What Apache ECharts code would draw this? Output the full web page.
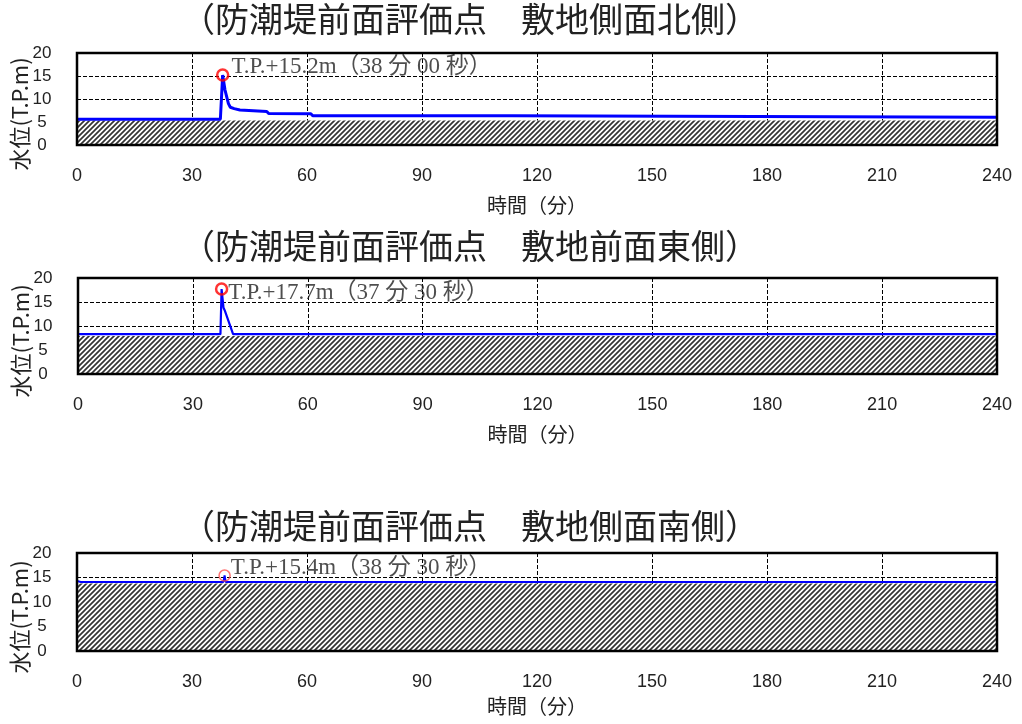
<!DOCTYPE html>
<html>
<head>
<meta charset="utf-8">
<script src="https://cdn.jsdelivr.net/npm/echarts@6/dist/echarts.min.js"></script>
<style>html,body{margin:0;padding:0;background:#fff;}#c{width:1022px;height:724px;}</style>
</head>
<body>
<div id="c"></div>
<script>
// ---- data ----
const titles = ['（防潮堤前面評価点　敷地側面北側）', '（防潮堤前面評価点　敷地前面東側）', '（防潮堤前面評価点　敷地側面南側）'];
const xAxisName = '時間（分）';
const yAxisName = '水位(T.P.m)';
const xTicks = [0, 30, 60, 90, 120, 150, 180, 210, 240];
const yTicks = [0, 5, 10, 15, 20];

const northTime  = [0, 37.4, 38.0, 38.6, 39.5, 40.0, 41.0, 42.5, 43.0, 49.5, 50.0, 61.0, 61.5, 113.5, 114.0, 240];
const northLevel = [5.6, 5.6, 15.2, 12.0, 9.0, 8.2, 7.9, 7.6, 7.35, 7.3, 6.85, 6.8, 6.35, 6.35, 6.05, 6.05];
const eastTime   = [0, 37.2, 37.5, 38.0, 38.3, 40.5, 240];
const eastLevel  = [8.3, 8.3, 17.7, 13.8, 13.3, 8.3, 8.3];
const southTime  = [0, 1.0, 38.2, 38.5, 38.8, 240];
const southLevel = [14.3, 14.1, 14.1, 15.4, 14.1, 14.1];

const groundLevel = [5.3, 7.9, 13.8];
const peakTime  = [38.0, 37.5, 38.5];
const peakLevel = [15.2, 17.7, 15.4];
const peakLabel = ['T.P.+15.2m（38 分 00 秒）', 'T.P.+17.7m（37 分 30 秒）', 'T.P.+15.4m（38 分 30 秒）'];

// ---- layout / style ----
const times = [northTime, eastTime, southTime];
const levels = [northLevel, eastLevel, southLevel];
const grids = [
  {left: 77, right: 25, top: 53, height: 92},
  {left: 78, right: 25, top: 278, height: 96},
  {left: 77, right: 25, top: 553, height: 98}
];
const titleTops = [2, 229, 509];
const nameGaps = [50, 50, 45];
const lineWidths = [3, 2.2, 2];
const labelOffsets = [[0, -8], [0, 4], [0, -8]];
const labelDist = [2, 0, 0];
const markerBorder = [2.5, 2.5, 1.5];
const markerColor = ['#ff0000', '#ff0000', '#ff5050'];

function hatchCanvas() {
  const s = 5;
  const c = document.createElement('canvas');
  c.width = s; c.height = s;
  const g = c.getContext('2d');
  g.fillStyle = '#ffffff';
  g.fillRect(0, 0, s, s);
  g.strokeStyle = '#333333';
  g.lineWidth = 1.7;
  g.beginPath();
  g.moveTo(-1, s + 1); g.lineTo(s + 1, -1);
  g.moveTo(-1, 1); g.lineTo(1, -1);
  g.moveTo(s - 1, s + 1); g.lineTo(s + 1, s - 1);
  g.stroke();
  return c;
}
const hatch = hatchCanvas();

const zip = (a, b) => a.map((v, i) => [v, b[i]]);
const labelFont = '"Liberation Sans", "Noto Sans CJK JP", sans-serif';
const serifFont = '"Liberation Serif", "Noto Sans CJK JP", serif';
const cjkFont = '"Noto Sans CJK JP", sans-serif';

const option = {
  animation: false,
  backgroundColor: '#ffffff',
  title: titles.map((t, i) => ({
    text: t, left: 470, top: titleTops[i], textAlign: 'center', padding: 0,
    textStyle: {fontFamily: cjkFont, fontSize: 34, fontWeight: 'normal', color: '#222'}
  })),
  grid: grids.map(g => Object.assign({show: true, borderColor: '#000', borderWidth: 2.5, z: 5,
    backgroundColor: 'transparent', outerBoundsMode: 'none', containLabel: false}, g)),
  xAxis: grids.map((g, i) => ({
    gridIndex: i, type: 'value', min: xTicks[0], max: xTicks[xTicks.length - 1], interval: 30,
    name: xAxisName, nameLocation: 'middle', nameGap: nameGaps[i], nameMoveOverlap: false,
    nameTextStyle: {fontFamily: cjkFont, fontSize: 20, color: '#222'},
    axisLine: {show: false}, axisTick: {show: false},
    axisLabel: {margin: 22, fontFamily: labelFont, fontSize: 18, color: '#222'},
    splitLine: {show: true, lineStyle: {color: '#000', width: 1, type: [4, 2]}}
  })),
  yAxis: grids.map((g, i) => ({
    gridIndex: i, type: 'value', min: yTicks[0], max: yTicks[yTicks.length - 1], interval: 5,
    name: yAxisName, nameLocation: 'middle', nameRotate: 90, nameGap: 46, nameMoveOverlap: false,
    nameTextStyle: {fontFamily: cjkFont, fontSize: 22, color: '#222', padding: [0, 30, 0, 0]},
    axisLine: {show: false}, axisTick: {show: false},
    axisLabel: {margin: 35, align: 'center', fontFamily: labelFont, fontSize: 17, color: '#222'},
    splitLine: {show: true, lineStyle: {color: '#000', width: 1, type: [4, 2]}}
  })),
  series: []
};

for (let i = 0; i < 3; i++) {
  option.series.push({
    type: 'line', xAxisIndex: i, yAxisIndex: i, z: 1,
    data: [[xTicks[0], groundLevel[i]], [xTicks[xTicks.length - 1], groundLevel[i]]],
    symbol: 'none', lineStyle: {width: 0},
    areaStyle: {color: {image: hatch, repeat: 'repeat'}, opacity: 1}
  });
  option.series.push({
    type: 'line', xAxisIndex: i, yAxisIndex: i, z: 3,
    data: zip(times[i], levels[i]),
    symbol: 'none', lineStyle: {color: '#0000ff', width: lineWidths[i]}
  });
  option.series.push({
    type: 'scatter', xAxisIndex: i, yAxisIndex: i, z: 4,
    data: [[peakTime[i], peakLevel[i]]],
    symbol: 'circle', symbolSize: 11,
    itemStyle: {color: 'rgba(0,0,0,0)', borderColor: markerColor[i], borderWidth: markerBorder[i]},
    label: {
      show: true, position: 'right', distance: labelDist[i], offset: labelOffsets[i],
      formatter: peakLabel[i], fontFamily: serifFont, fontSize: 23, color: '#222'
    }
  });
}

const chart = echarts.init(document.getElementById('c'), null, {renderer: 'canvas'});
chart.setOption(option);
</script>
</body>
</html>
